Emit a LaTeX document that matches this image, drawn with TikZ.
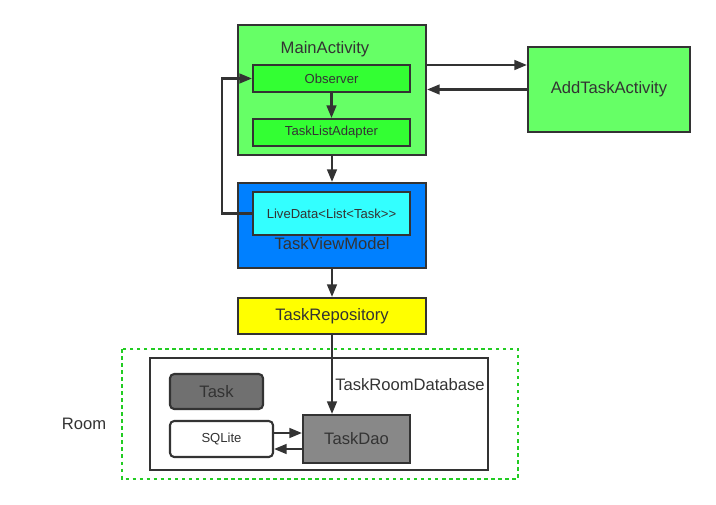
\documentclass[tikz,border=0pt]{standalone}
\usepackage{fontspec}
\setmainfont{Liberation Sans}
\usepackage{xcolor}
\usepackage{tikz}
\usetikzlibrary{arrows.meta, positioning, calc}

\definecolor{actgreen}{HTML}{66FF66}
\definecolor{subgreen}{HTML}{33FF33}
\definecolor{vmblue}{HTML}{0080FF}
\definecolor{ldcyan}{HTML}{33FFFF}
\definecolor{repoyellow}{HTML}{FFFF00}
\definecolor{taskgray}{HTML}{707070}
\definecolor{daogray}{HTML}{888888}
\definecolor{ink}{HTML}{333333}
\definecolor{roomgreen}{HTML}{22CC22}

\begin{document}
\begin{tikzpicture}[
    x=0.025cm, y=-0.025cm,
    every node/.style={align=center, text=ink},
    bigtext/.style={font=\fontsize{11.8}{13}\selectfont},
    smalltext/.style={font=\fontsize{9.3}{11}\selectfont},
    box/.style={rectangle, draw=ink, line width=1.5pt, inner sep=0pt},
    rbox/.style={box, rounded corners=3pt},
    arr/.style={draw=ink, line width=1.5pt, -{Triangle[length=9pt, width=7pt]}}
]
\useasboundingbox (0,0) rectangle (716,505);

% activities
\node[box, fill=actgreen, minimum width=4.7cm, minimum height=3.25cm] (main) at (332,90) {};
\node[bigtext] (mainlbl) at (325,49) {MainActivity};
\node[box, fill=subgreen, smalltext, minimum width=3.925cm, minimum height=0.675cm] (obs) at (331.5,78.5) {Observer};
\node[box, fill=subgreen, smalltext, minimum width=3.925cm, minimum height=0.675cm] (adapter) at (331.5,132.5) {TaskListAdapter};
\node[box, fill=actgreen, bigtext, minimum width=4.05cm, minimum height=2.125cm] (add) at (609,89.5) {AddTaskActivity};

% view model
\node[box, fill=vmblue, minimum width=4.7cm, minimum height=2.125cm] (vm) at (332,225.5) {};
\node[box, fill=ldcyan, smalltext, minimum width=3.925cm, minimum height=1.075cm] (ld) at (331.5,213.5) {LiveData<List<Task>{}>};
\node[bigtext] (vmlbl) at (332,244) {TaskViewModel};

% repository
\node[box, fill=repoyellow, bigtext, minimum width=4.7cm, minimum height=0.9cm] (repo) at (332,316) {TaskRepository};

% room
\draw[roomgreen, line width=1.6pt, dash pattern=on 2.5pt off 2.5pt] (122,349) rectangle (518,479);
\node[bigtext] (roomlbl) at (84,424) {Room};
\node[box, minimum width=8.45cm, minimum height=2.8cm] (db) at (319,414) {};
\node[bigtext, anchor=west, inner sep=0pt] (dblbl) at (335,385) {TaskRoomDatabase};
\node[rbox, fill=taskgray, bigtext, minimum width=2.325cm, minimum height=0.875cm] (task) at (216.5,391.5) {Task};
\node[rbox, fill=white, smalltext, minimum width=2.575cm, minimum height=0.9cm] (sql) at (221.5,439) {SQLite};
\node[box, fill=daogray, bigtext, minimum width=2.675cm, minimum height=1.2cm] (dao) at (356.5,439) {TaskDao};

% connectors
\draw[arr] (obs) -- (adapter);
\coordinate (m1) at ([yshift=0.625cm]main.east);
\draw[arr] (m1) -- (m1 -| add.west);
\draw[arr] (add.west) -- (add.west -| main.east);
\draw[arr] (main.south) -- (vm.north);
\draw[arr] (ld.west) -- ++(-0.75cm,0) |- (obs.west);
\draw[arr] (vm.south) -- (repo.north);
\draw[arr] (repo.south) -- (repo.south |- dao.north);
\coordinate (s1) at ([yshift=0.15cm]sql.east);
\draw[arr] (s1) -- (s1 -| dao.west);
\coordinate (d1) at ([yshift=-0.25cm]dao.west);
\draw[arr] (d1) -- (d1 -| sql.east);
\end{tikzpicture}
\end{document}
